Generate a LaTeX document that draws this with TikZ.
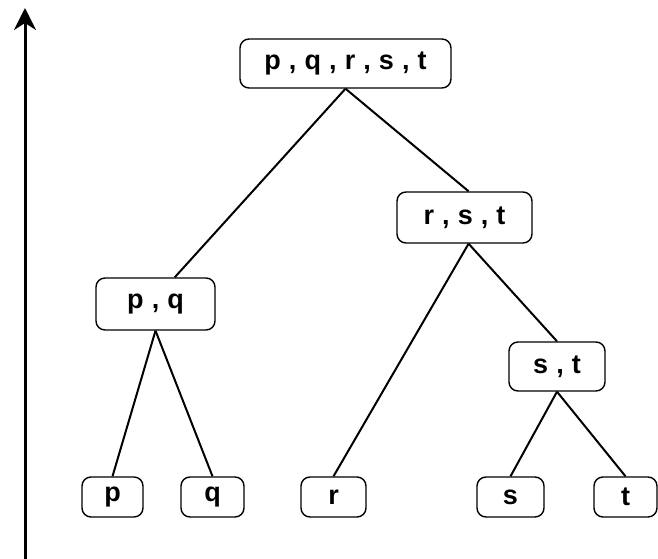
\documentclass[tikz,border=0pt]{standalone}
\usepackage{fontspec}
\setmainfont{Liberation Sans}
\usetikzlibrary{arrows.meta,calc}
\newcommand\sepc{\hspace{0.3em},\hspace{0.3em}}
\tikzset{
  setbox/.style={draw=black, line width=1.4pt, rounded corners=9pt,
    inner sep=0pt, font=\fontsize{27}{30}\selectfont\bfseries},
  link/.style={draw=black, line width=2pt}
}
\begin{document}
\begin{tikzpicture}[x=1pt,y=-1pt]
  \useasboundingbox (0,0) rectangle (658,559);
  % vertical axis
  \coordinate (axisbot) at (25,559);
  \coordinate (axistop) at (25,8);
  \draw[line width=3pt, -{Stealth[length=22pt,width=22pt,inset=7pt]}] (axisbot) -- (axistop);

  % internal nodes
  \node[setbox, minimum width=211pt, minimum height=49pt] (pqrst) at (345.5,63.5) {p\sepc q\sepc r\sepc s\sepc t};
  \node[setbox, minimum width=135pt, minimum height=51pt] (rst) at (464.5,217.5) {r\sepc s\sepc t};
  \node[setbox, minimum width=119pt, minimum height=52pt] (pq) at (155.5,304) {p\sepc q};
  \node[setbox, minimum width=96pt, minimum height=49pt] (st) at (557,366.5) {s\sepc t};

  % leaves
  \node[setbox, minimum width=61pt, minimum height=40pt] (p) at (112.5,497) {p};
  \node[setbox, minimum width=63pt, minimum height=40pt] (q) at (212.5,497) {q};
  \node[setbox, minimum width=65pt, minimum height=40pt] (r) at (333.5,497) {r};
  \node[setbox, minimum width=67pt, minimum height=40pt] (s) at (510.5,497) {s};
  \node[setbox, minimum width=63pt, minimum height=40pt] (t) at (625.5,497) {t};

  % tree edges
  \draw[link] (pqrst.south) -- ($(pq.north west)!0.66!(pq.north east)$);
  \draw[link] (pqrst.south) -- ($(rst.north west)!0.53!(rst.north east)$);
  \draw[link] ($(rst.south west)!0.53!(rst.south east)$) -- (r.north);
  \draw[link] ($(rst.south west)!0.53!(rst.south east)$) -- (st.north);
  \draw[link] (pq.south) -- (p.north);
  \draw[link] (pq.south) -- (q.north);
  \draw[link] (st.south) -- (s.north);
  \draw[link] (st.south) -- (t.north);
\end{tikzpicture}
\end{document}
